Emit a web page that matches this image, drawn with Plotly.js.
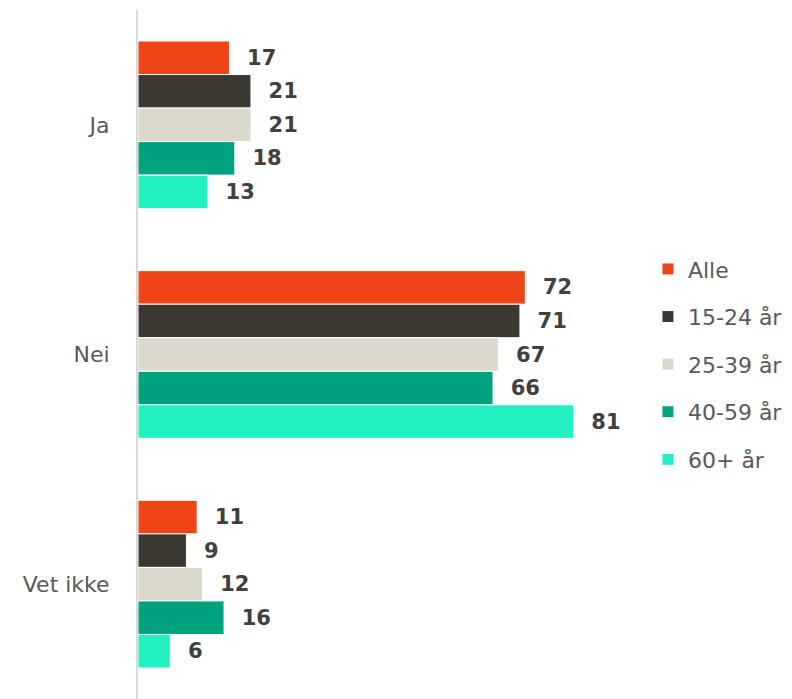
<!DOCTYPE html>
<html>
<head>
<meta charset="utf-8">
<script src="https://cdn.plot.ly/plotly-3.0.1.min.js"></script>
<style>html,body{margin:0;padding:0;background:#fff}#chart{width:792px;height:699px}</style>
</head>
<body>
<div id="chart"></div>
<script>
const categories = ["Ja", "Nei", "Vet ikke"];
const seriesNames = ["Alle", "15-24 år", "25-39 år", "40-59 år", "60+ år"];
const alle   = [17, 72, 11];
const age1524 = [21, 71, 9];
const age2539 = [21, 67, 12];
const age4059 = [18, 66, 16];
const age60   = [13, 81, 6];
const colors = ["#EF4416", "#3B3831", "#DBD9CC", "#00A37E", "#22F0C0"];

const seriesValues = [alle, age1524, age2539, age4059, age60];
const traces = seriesValues.map((vals, i) => ({
  type: "bar",
  orientation: "h",
  name: seriesNames[i],
  legendgroup: "g" + i,
  y: categories,
  x: vals,
  marker: {color: colors[i], line: {color: "#ffffff", width: 1}},
  text: vals.map(v => "\u00a0\u00a0" + v),
  texttemplate: "%{text}",
  textposition: "outside",
  constraintext: "none",
  cliponaxis: false,
  textfont: {family: "'DejaVu Sans', sans-serif", size: 21, color: "#404040", weight: "bold"},
  hoverinfo: "skip"
}));

const layout = {
  width: 792, height: 699,
  margin: {l: 138, r: 172, t: 10, b: 0},
  paper_bgcolor: "#fff", plot_bgcolor: "#fff",
  barmode: "group",
  bargap: 0.27,
  bargroupgap: 0,
  showlegend: true,
  legend: {
    x: 1.058, xanchor: "left", y: 0.486, yanchor: "middle",
    traceorder: "grouped", tracegroupgap: 16,
    font: {family: "'DejaVu Sans', sans-serif", size: 22, color: "#595959"},
    itemclick: false
  },
  xaxis: {range: [0, 89.6], visible: false, fixedrange: true},
  yaxis: {
    autorange: "reversed",
    showline: true, linecolor: "#d9d9d9", linewidth: 2,
    showgrid: false, zeroline: false, ticks: "",
    ticklabelstandoff: 22,
    tickfont: {family: "'DejaVu Sans', sans-serif", size: 22, color: "#595959"}
  },
  font: {family: "'DejaVu Sans', sans-serif"}
};

Plotly.newPlot("chart", traces, layout, {displayModeBar: false, staticPlot: true});
</script>
</body>
</html>
